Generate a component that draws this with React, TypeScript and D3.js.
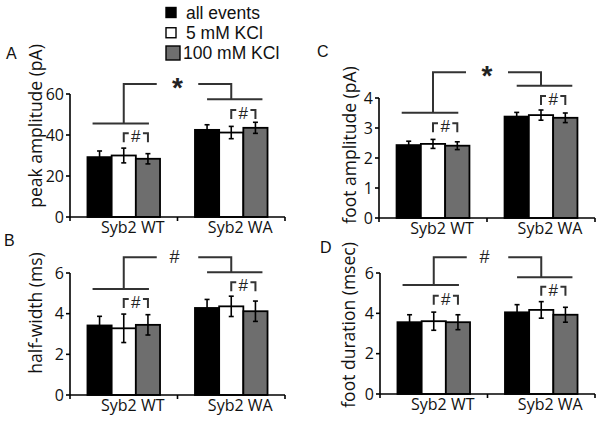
import React from "react";
import * as d3 from "d3";

const categories = ["Syb2 WT", "Syb2 WA"];
const seriesNames = ["all events", "5 mM KCl", "100 mM KCl"];

// values indexed [category][series]
const peakAmplitude = [[29.2, 30.0, 28.4], [42.5, 41.2, 43.5]];
const peakAmplitudeErr = [[3.0, 3.6, 2.5], [2.5, 3.0, 2.7]];
const halfWidth = [[3.42, 3.28, 3.45], [4.28, 4.36, 4.12]];
const halfWidthErr = [[0.45, 0.7, 0.5], [0.42, 0.5, 0.5]];
const footAmplitude = [[2.43, 2.47, 2.41], [3.38, 3.43, 3.34]];
const footAmplitudeErr = [[0.13, 0.15, 0.13], [0.14, 0.17, 0.16]];
const footDuration = [[3.56, 3.61, 3.56], [4.05, 4.17, 3.93]];
const footDurationErr = [[0.37, 0.45, 0.37], [0.38, 0.41, 0.37]];

const peakTicks = [0, 20, 40, 60];
const halfTicks = [0, 2, 4, 6];
const footAmpTicks = [0, 1, 2, 3, 4];
const footDurTicks = [0, 2, 4, 6];

const fills = ["#000000", "#ffffff", "#6e6e6e"];
const annColor = "#333333";
const axisFont = "'Open Sans', 'DejaVu Sans', sans-serif";
const legendFont = "'Liberation Sans', Arial, sans-serif";

type PanelSpec = {
  letter: string;
  title: string;
  values: number[][];
  errs: number[][];
  ticks: number[];
  sym: string;
  x0: number; x1: number; y0: number; yTop: number;
  titleX: number; titleY: number;
  letterX: number; letterY: number;
  sigTop: number; wtLine: number; waLine: number; wtBracket: number; waBracket: number;
};

const panels: PanelSpec[] = [
  {
    letter: "A", title: "peak amplitude (pA)", values: peakAmplitude, errs: peakAmplitudeErr, ticks: peakTicks, sym: "*",
    x0: 70, x1: 285, y0: 217, yTop: 94, titleX: 35, titleY: 126, letterX: 6, letterY: 59,
    sigTop: 64.9, wtLine: 45.6, waLine: 57.4, wtBracket: 40.8, waBracket: 52.2,
  },
  {
    letter: "B", title: "half-width (ms)", values: halfWidth, errs: halfWidthErr, ticks: halfTicks, sym: "#",
    x0: 70, x1: 285, y0: 395, yTop: 273, titleX: 35, titleY: 313, letterX: 4, letterY: 246,
    sigTop: 6.77, wtLine: 5.21, waLine: 6.04, wtBracket: 4.72, waBracket: 5.54,
  },
  {
    letter: "C", title: "foot amplitude (pA)", values: footAmplitude, errs: footAmplitudeErr, ticks: footAmpTicks, sym: "*",
    x0: 379, x1: 595, y0: 218, yTop: 98, titleX: 349, titleY: 145, letterX: 317, letterY: 57,
    sigTop: 4.86, wtLine: 3.51, waLine: 4.41, wtBracket: 3.16, waBracket: 4.07,
  },
  {
    letter: "D", title: "foot duration (msec)", values: footDuration, errs: footDurationErr, ticks: footDurTicks, sym: "#",
    x0: 380, x1: 595, y0: 394, yTop: 273, titleX: 348, titleY: 325, letterX: 320, letterY: 253,
    sigTop: 6.78, wtLine: 5.4, waLine: 5.79, wtBracket: 4.87, waBracket: 5.32,
  },
];

function Panel({ p }: { p: PanelSpec }) {
  const x = d3.scaleBand<string>().domain(categories).range([p.x0, p.x1]).padding(0);
  const bw = x.bandwidth();
  const gw = bw * 0.675;
  const xs = d3.scaleBand<string>().domain(seriesNames).range([0, gw]).padding(0);
  const maxT = p.ticks[p.ticks.length - 1];
  const y = d3.scaleLinear().domain([0, maxT]).range([p.y0, p.yTop]);
  const barX = (ci: number, si: number) => (x(categories[ci]) as number) + (bw - gw) / 2 + (xs(seriesNames[si]) as number);
  const cx = (ci: number, si: number) => barX(ci, si) + xs.bandwidth() / 2;
  const boundaries = [p.x0, ...categories.map((c) => (x(c) as number) + bw)];

  const w1 = cx(0, 0), w2 = cx(0, 1), w3 = cx(0, 2);
  const a1 = cx(1, 0), a2 = cx(1, 1), a3 = cx(1, 2);
  const mid = (x(categories[1]) as number);
  const sw = 2;

  const bracket = (left: number, right: number, top: number, key: string) => (
    <g key={key}>
      <path d={`M${left},${top + 9}V${top}H${left + 5}`} fill="none" stroke={annColor} strokeWidth={sw} />
      <path d={`M${right},${top + 9}V${top}H${right - 5}`} fill="none" stroke={annColor} strokeWidth={sw} />
      <text x={(left + right) / 2} y={top + 9} textAnchor="middle" fontFamily={legendFont} fontSize={17} fill="#222">#</text>
    </g>
  );

  return (
    <g>
      {p.values.map((row, ci) =>
        row.map((v, si) => (
          <rect key={`b${ci}${si}`} x={barX(ci, si)} y={y(v)} width={xs.bandwidth()} height={p.y0 - y(v)}
            fill={fills[si]} stroke="#000" strokeWidth={1.8} />
        ))
      )}
      {p.values.map((row, ci) =>
        row.map((v, si) => {
          const e = p.errs[ci][si];
          const c = cx(ci, si);
          return (
            <g key={`e${ci}${si}`} stroke="#000" strokeWidth={1.6}>
              <line x1={c} x2={c} y1={y(v + e)} y2={y(v - e)} />
              <line x1={c - 2.5} x2={c + 2.5} y1={y(v + e)} y2={y(v + e)} />
              <line x1={c - 2.5} x2={c + 2.5} y1={y(v - e)} y2={y(v - e)} />
            </g>
          );
        })
      )}
      <line x1={p.x0} x2={p.x0} y1={y(maxT)} y2={p.y0} stroke="#000" strokeWidth={1.6} />
      <line x1={p.x0} x2={p.x1} y1={p.y0} y2={p.y0} stroke="#000" strokeWidth={1.6} />
      {p.ticks.map((t) => (
        <g key={`t${t}`}>
          <line x1={p.x0 - 4} x2={p.x0} y1={y(t)} y2={y(t)} stroke="#000" strokeWidth={1.6} />
          <text x={p.x0 - 6} y={y(t)} dy="0.36em" textAnchor="end" fontFamily={axisFont} fontSize={16} fill="#111">{t}</text>
        </g>
      ))}
      {boundaries.map((b, i) => (
        <line key={`xb${i}`} x1={b} x2={b} y1={p.y0} y2={p.y0 + 4} stroke="#000" strokeWidth={1.6} />
      ))}
      {categories.map((c) => (
        <text key={c} x={(x(c) as number) + bw / 2 + 9} y={p.y0 + 16} textAnchor="middle" fontFamily={axisFont} fontSize={16} fill="#111">{c}</text>
      ))}
      <text transform={`translate(${p.titleX},${p.titleY}) rotate(-90)`} textAnchor="middle" dominantBaseline="central"
        fontFamily={axisFont} fontSize={17.5} fill="#111">{p.title}</text>
      <text x={p.letterX} y={p.letterY} fontFamily={legendFont} fontSize={16} fill="#111">{p.letter}</text>
      <g fill="none" stroke={annColor} strokeWidth={sw}>
        <line x1={w1 - 7} x2={w3 + 1} y1={y(p.wtLine)} y2={y(p.wtLine)} />
        <path d={`M${w2},${y(p.wtLine)}V${y(p.sigTop)}H${w2 + 33}`} />
        <path d={`M${a2 - 33},${y(p.sigTop)}H${a2}V${y(p.waLine)}`} />
        <line x1={a1} x2={a3 + 7} y1={y(p.waLine)} y2={y(p.waLine)} />
      </g>
      {p.sym === "*" ? (
        <text x={mid} y={y(p.sigTop) + 13} textAnchor="middle" fontFamily={legendFont} fontWeight="bold" fontSize={28} fill="#222">*</text>
      ) : (
        <text x={mid - 3} y={y(p.sigTop) + 6} textAnchor="middle" fontFamily={legendFont} fontSize={18} fill="#222">#</text>
      )}
      {bracket(w2, w3, y(p.wtBracket), "bw")}
      {bracket(a2, a3, y(p.waBracket), "ba")}
    </g>
  );
}

function Legend() {
  const rowY = d3.scalePoint<string>().domain(seriesNames).range([12.5, 53]);
  return (
    <g>
      {seriesNames.map((s, i) => {
        const cy = rowY(s) as number;
        const size = i === 2 ? 14 : 10;
        return (
          <g key={s}>
            <rect x={166} y={cy - size / 2} width={size} height={size} fill={fills[i]} stroke="#000" strokeWidth={1.4} />
            <text x={i === 2 ? 183 : 186} y={cy + 6} fontFamily={legendFont} fontSize={17.5} fill="#111">{s}</text>
          </g>
        );
      })}
    </g>
  );
}

export default function App() {
  return (
    <svg width={600} height={421} style={{ position: "absolute", left: 0, top: 0, background: "#fff" }}>
      <rect width={600} height={421} fill="#fff" />
      <Legend />
      {panels.map((p) => <Panel key={p.letter} p={p} />)}
    </svg>
  );
}
